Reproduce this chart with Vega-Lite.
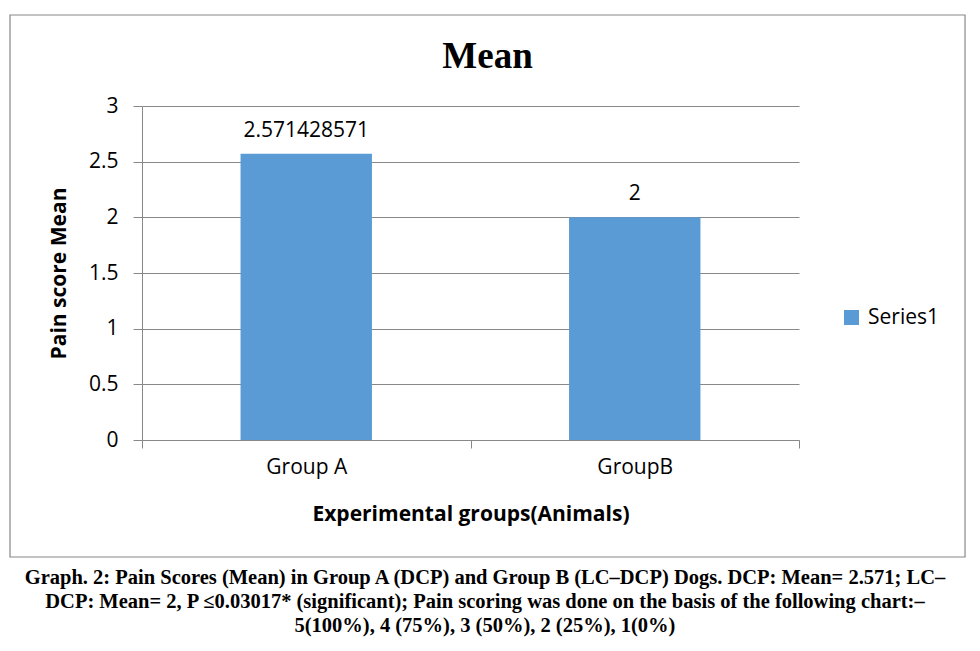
{
  "$schema": "https://vega.github.io/schema/vega-lite/v6.json",
  "width": 657,
  "height": 334,
  "autosize": {"type": "none"},
  "padding": {"left": 142, "top": 106, "right": 181, "bottom": 211},
  "background": "white",
  "title": {
    "text": "Mean",
    "font": "Liberation Serif",
    "fontSize": 37,
    "fontWeight": "bold",
    "color": "#000000",
    "anchor": "middle",
    "frame": "group",
    "dx": 17,
    "offset": -91,
    "baseline": "alphabetic"
  },
  "config": {"view": {"stroke": null}, "font": "Open Sans"},
  "resolve": {"scale": {"x": "independent", "y": "independent"}},
  "layer": [
    {
      "data": {"values": [{"part": "frame"}]},
      "mark": {"type": "rect", "fill": "transparent", "stroke": "#888888", "strokeWidth": 1.2},
      "encoding": {
        "x": {"datum": -0.2009, "type": "quantitative", "scale": {"domain": [0, 1], "nice": false, "zero": false}, "axis": null},
        "x2": {"datum": 1.2527},
        "y": {"datum": 3.8174, "type": "quantitative", "scale": {"domain": [0, 3], "nice": false, "zero": false}, "axis": null},
        "y2": {"datum": -1.0509}
      }
    },
    {
      "data": {"values": [{"part": "caption"}]},
      "mark": {"type": "text", "font": "Liberation Serif", "fontSize": 20.5, "fontWeight": "bold", "lineHeight": 24, "align": "center", "baseline": "alphabetic", "color": "#000000"},
      "encoding": {
        "x": {"datum": 0.522, "type": "quantitative", "scale": {"domain": [0, 1], "nice": false, "zero": false}, "axis": null},
        "y": {"datum": -1.2934, "type": "quantitative", "scale": {"domain": [0, 3], "nice": false, "zero": false}, "axis": null},
        "text": {"value": [
          "Graph. 2: Pain Scores (Mean) in Group A (DCP) and Group B (LC\u2013DCP) Dogs. DCP: Mean= 2.571; LC\u2013",
          "DCP: Mean= 2, P \u22640.03017* (significant); Pain scoring was done on the basis of the following chart:\u2013",
          "5(100%), 4 (75%), 3 (50%), 2 (25%), 1(0%)"
        ]}
      }
    },
    {
      "data": {"values": [
        {"group": "Group A", "mean": 2.571428571, "series": "Series1"},
        {"group": "GroupB", "mean": 2, "series": "Series1"}
      ]},
      "mark": {"type": "bar", "width": {"band": 0.4}},
      "encoding": {
        "x": {
          "field": "group", "type": "nominal", "sort": null,
          "scale": {"paddingInner": 0, "paddingOuter": 0},
          "axis": {
            "title": "Experimental groups(Animals)",
            "titleFont": "Open Sans", "titleFontSize": 21, "titleFontWeight": "bold", "titleColor": "#000000", "titlePadding": 26,
            "labelAngle": 0, "labelFont": "Open Sans", "labelFontSize": 21, "labelColor": "#000000", "labelPadding": 8,
            "tickBand": "extent", "tickSize": 8, "tickColor": "#888888", "domainColor": "#888888", "grid": false
          }
        },
        "y": {
          "field": "mean", "type": "quantitative",
          "scale": {"domain": [0, 3], "nice": false},
          "axis": {
            "title": "Pain score Mean",
            "titleFont": "Open Sans", "titleFontSize": 21, "titleFontWeight": "bold", "titleColor": "#000000", "titlePadding": 19,
            "values": [0, 0.5, 1, 1.5, 2, 2.5, 3], "format": "~g",
            "labelFont": "Open Sans", "labelFontSize": 21, "labelColor": "#000000", "labelPadding": 15,
            "tickSize": 9, "tickColor": "#888888", "domainColor": "#888888", "gridColor": "#888888", "grid": true
          }
        },
        "color": {
          "field": "series", "type": "nominal",
          "scale": {"range": ["#5B9BD5"]},
          "legend": {
            "title": null, "orient": "none", "legendX": 699, "legendY": 201,
            "symbolType": "square", "symbolSize": 225, "symbolStrokeWidth": 0,
            "labelFont": "Open Sans", "labelFontSize": 21, "labelColor": "#000000", "labelOffset": 6, "padding": 0
          }
        }
      }
    },
    {
      "data": {"values": [
        {"group": "Group A", "mean": 2.571428571, "series": "Series1"},
        {"group": "GroupB", "mean": 2, "series": "Series1"}
      ]},
      "mark": {"type": "text", "dy": -17, "baseline": "alphabetic", "font": "Open Sans", "fontSize": 21, "color": "#000000"},
      "encoding": {
        "x": {"field": "group", "type": "nominal", "sort": null, "scale": {"paddingInner": 0, "paddingOuter": 0}, "axis": null},
        "y": {"field": "mean", "type": "quantitative", "scale": {"domain": [0, 3], "nice": false}, "axis": null},
        "text": {"field": "mean", "type": "nominal"}
      }
    }
  ]
}
